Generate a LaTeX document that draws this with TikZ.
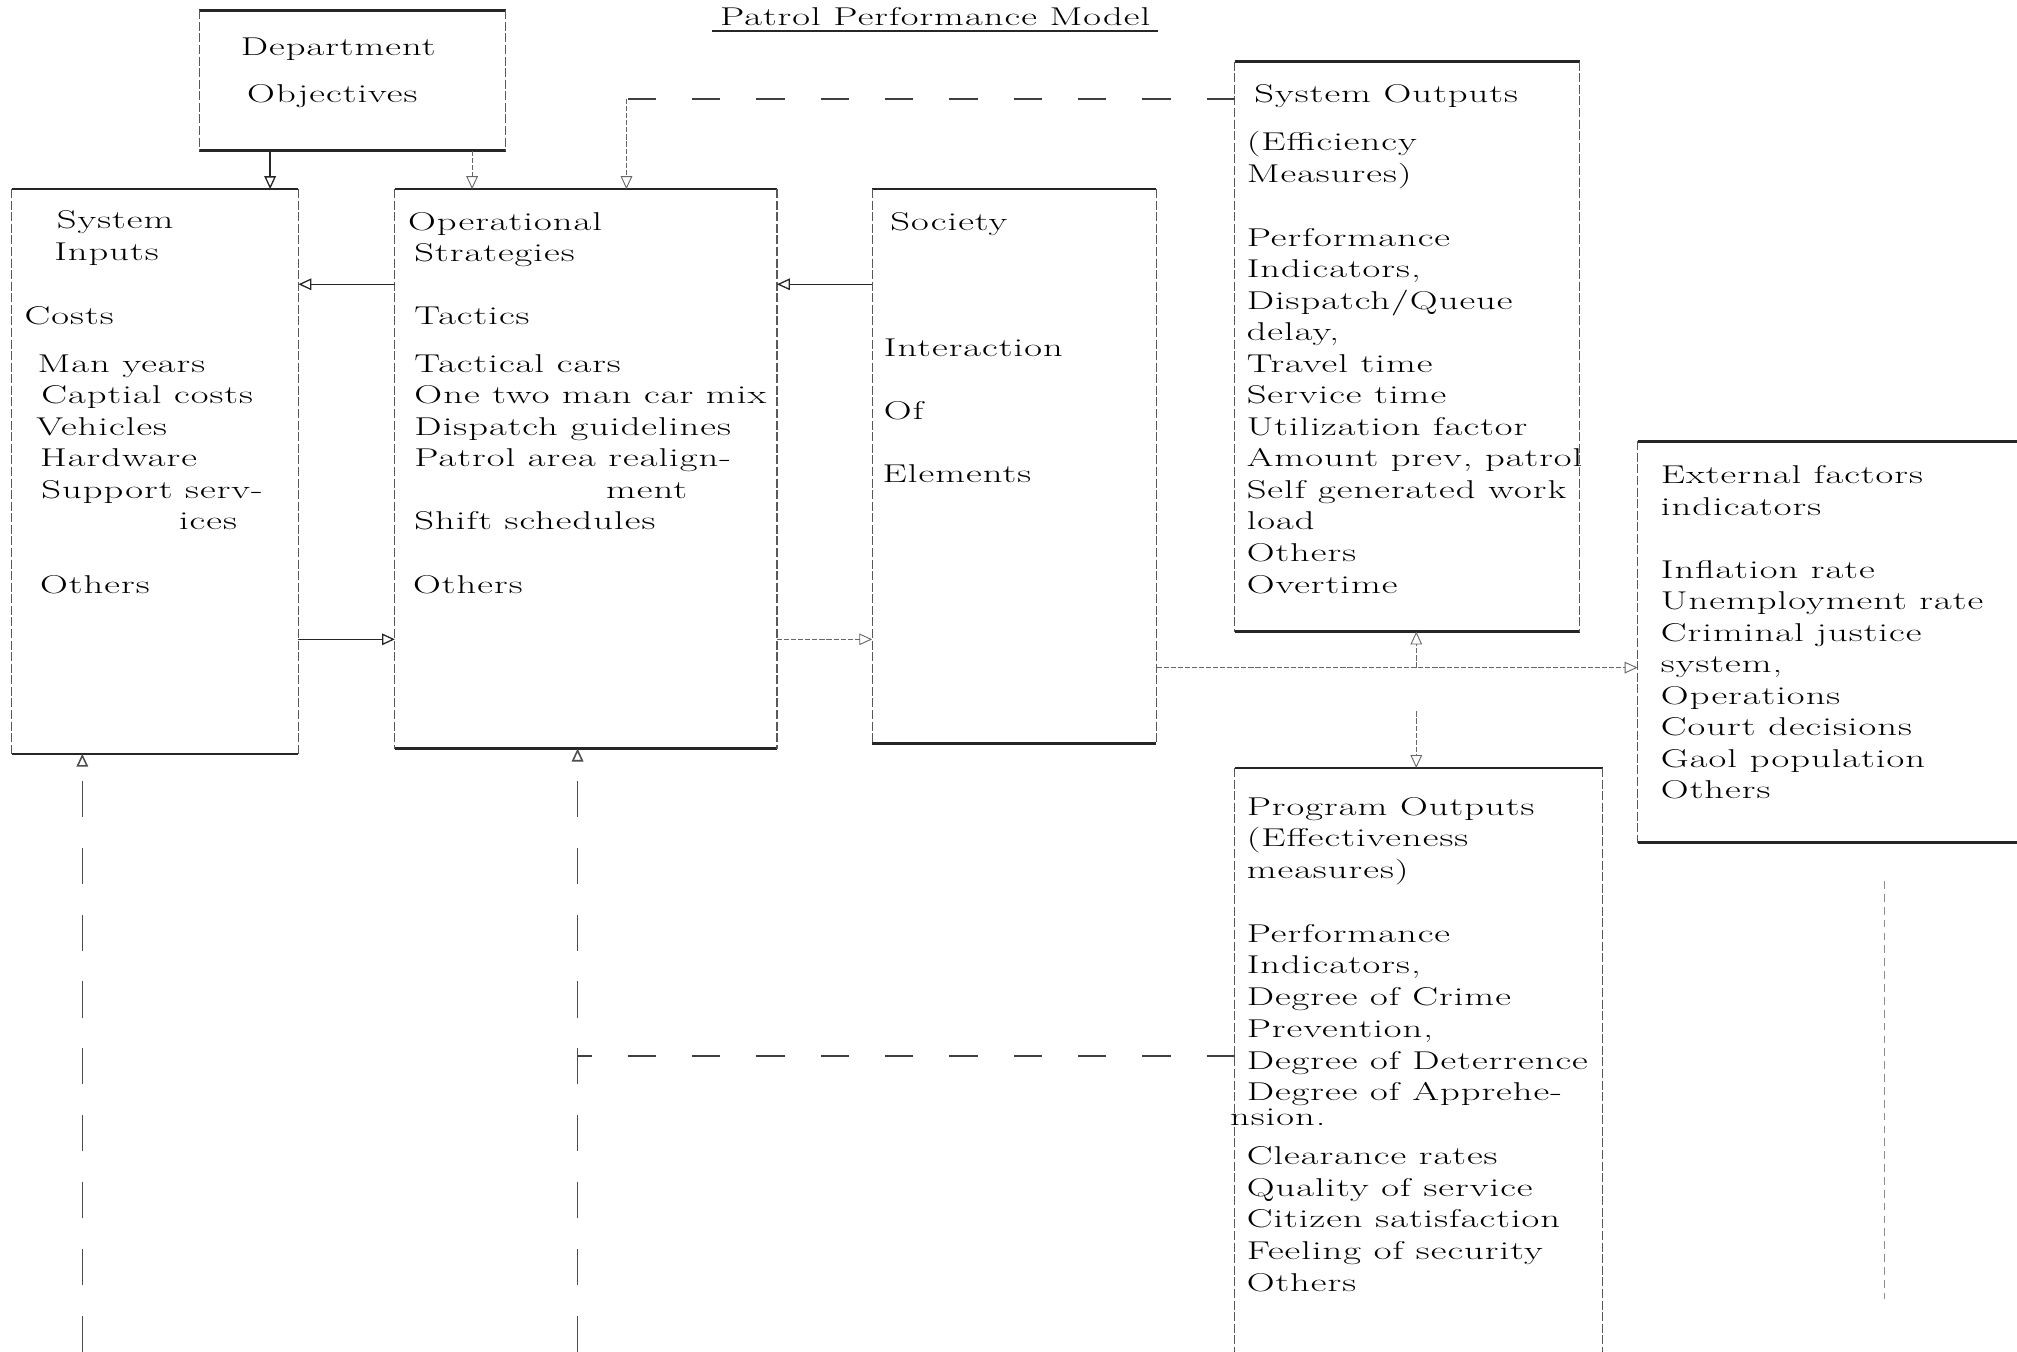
\documentclass[tikz,border=0pt]{standalone}
\usepackage{fontspec}
\setmainfont{Latin Modern Roman}[FakeStretch=1.5,LetterSpace=4]
\usetikzlibrary{arrows.meta}
\begin{document}
\begin{tikzpicture}[x=1pt,y=-1pt,
  box/.style={anchor=north west, inner sep=0pt, outer sep=0pt, draw=none},
  hedge/.style={line width=2pt, black!85},
  vedge/.style={line width=0.9pt, black!65, dash pattern=on 7pt off 2pt},
  txt/.style={anchor=base west, inner sep=0pt, align=left, font=\fontsize{20}{24.5}\selectfont},
  tip/.style={-{Triangle[open,length=10pt,width=9pt]}},
  solidarrow/.style={tip, line width=1pt, black!85},
  lightarrow/.style={tip, line width=0.7pt, black!60, dash pattern=on 4pt off 1.5pt},
  longdash/.style={line width=1.2pt, black!75, dash pattern=on 22pt off 28pt},
  vdash/.style={line width=1.2pt, black!70, dash pattern=on 28pt off 24pt},
  faintdash/.style={line width=0.7pt, black!45, dash pattern=on 6pt off 4pt}
]
\useasboundingbox (0,0) rectangle (1568,1051);
\fill[white] (0,0) rectangle (1568,1051);
\clip (0,0) rectangle (1568,1051);

% title
\node[anchor=base, inner sep=0pt, font=\fontsize{20}{24}\selectfont] (title) at (727,20) {Patrol Performance Model};
\draw[line width=1.6pt, black!85] (title.base west) ++(-6,4) coordinate (ul1) -- (title.base east |- ul1) -- ++(6,0);

% boxes
\node[box, minimum width=238pt, minimum height=109pt] (dept) at (155,8) {};
\node[box, minimum width=223pt, minimum height=439pt] (sin) at (9,147) {};
\node[box, minimum width=297pt, minimum height=435pt] (ops) at (307,147) {};
\node[box, minimum width=221pt, minimum height=431pt] (soc) at (678,147) {};
\node[box, minimum width=268pt, minimum height=443pt] (sout) at (960,48) {};
\node[box, minimum width=320pt, minimum height=312pt] (ext) at (1273,343) {};
\node[box, minimum width=286pt, minimum height=470pt] (pout) at (960,597) {};

\foreach \b in {dept,sin,ops,soc,sout}{
  \draw[hedge] (\b.north west) -- (\b.north east);
  \draw[hedge] (\b.south west) -- (\b.south east);
  \draw[vedge] (\b.north west) -- (\b.south west);
  \draw[vedge] (\b.north east) -- (\b.south east);
}
\draw[hedge] (ext.north west) -- (ext.north east);
\draw[hedge] (ext.south west) -- (ext.south east);
\draw[vedge] (ext.north west) -- (ext.south west);
\draw[hedge] (pout.north west) -- (pout.north east);
\draw[vedge] (pout.north west) -- (pout.south west);
\draw[vedge] (pout.north east) -- (pout.south east);

% texts (anchored at the baseline of their last line)
\node[txt] (tdept) at (187,80) {Department\\[12.5pt]\hspace*{5pt}Objectives};

\node[txt] (tsin) at (19,461) {%
\hspace*{25pt}System\\
\hspace*{23pt}Inputs\\[25.5pt]
Costs\\[12.5pt]
\hspace*{10pt}Man years\\
\hspace*{13pt}Captial costs\\
\hspace*{9pt}Vehicles\\
\hspace*{12pt}Hardware\\
\hspace*{13pt}Support serv-\\
\hspace*{120pt}ices\\[24.5pt]
\hspace*{12pt}Others};

\node[txt] (tops) at (317,461) {%
Operational\\
\hspace*{5pt}Strategies\\[24.5pt]
\hspace*{5pt}Tactics\\[12.5pt]
\hspace*{5pt}Tactical cars\\
\hspace*{5pt}One two man car mix\\
\hspace*{5pt}Dispatch guidelines\\
\hspace*{5pt}Patrol area realign-\\
\hspace*{154pt}ment\\
\hspace*{5pt}Shift schedules\\[24.5pt]
\hspace*{4pt}Others};

\node[txt] (tsoc) at (686,375) {%
\hspace*{6pt}Society\\[73.5pt]
\hspace*{1pt}Interaction\\[24.5pt]
\hspace*{1pt}Of\\[24.5pt]
Elements};

\node[txt] (tsout) at (969,461) {%
\hspace*{6pt}System Outputs\\[12.5pt]
(Efficiency\\
Measures)\\[25.5pt]
Performance\\
Indicators,\\
Dispatch/Queue\\
delay,\\
Travel time\\
Service time\\
Utilization factor\\
Amount prev, patrol\\
Self generated work\\
load\\
Others\\
Overtime};

\node[txt] (text) at (1291,621) {%
External factors\\
indicators\\[24.5pt]
Inflation rate\\
Unemployment rate\\
Criminal justice\\
system,\\
Operations\\
Court decisions\\
Gaol population\\
Others};

\node[txt, font=\fontsize{20}{24.7}\selectfont] (tpout) at (969,1004) {%
Program Outputs\\
(Effectiveness\\
measures)\\[24.5pt]
Performance\\
Indicators,\\
Degree of Crime\\
Prevention,\\
Degree of Deterrence\\
Degree of Apprehe-\\[-5.5pt]
\hspace*{-13pt}nsion.\\[5.5pt]
Clearance rates\\
Quality of service\\
Citizen satisfaction\\
Feeling of security\\
Others};

% connectors
\draw[solidarrow] (dept.south -| 210,0) -- (sin.north -| 210,0);
\draw[lightarrow] (dept.south -| 367,0) -- (ops.north -| 367,0);
\draw[solidarrow] (ops.west |- 0,221) -- (sin.east |- 0,221);
\draw[solidarrow] (soc.west |- 0,221) -- (ops.east |- 0,221);
\draw[solidarrow] (sin.east |- 0,497) -- (ops.west |- 0,497);
\draw[lightarrow] (ops.east |- 0,497) -- (soc.west |- 0,497);
\draw[lightarrow] (soc.east |- 0,519) -- (ext.west |- 0,519);

\coordinate (fb) at (487,77);
\draw[longdash] (sout.west |- fb) -- (fb);
\draw[lightarrow] (fb) -- (ops.north -| fb);

\coordinate (j) at (1101,519);
\draw[lightarrow] (j) -- (sout.south -| j);
\draw[lightarrow] (j) ++(0,34) coordinate (j2) -- (pout.north -| j);

\coordinate (fb2) at (449,821);
\draw[longdash] (pout.west |- fb2) -- (fb2);
\coordinate (b1) at (64,1051);
\coordinate (b2) at (449,1051);
\draw[vdash, tip] (b2) -- (ops.south -| b2);
\draw[vdash, tip] (b1) -- (sin.south -| b1);

\coordinate (e1) at (1465,685);
\coordinate (e2) at (1465,1010);
\draw[faintdash] (e1) -- (e2);
\end{tikzpicture}
\end{document}
